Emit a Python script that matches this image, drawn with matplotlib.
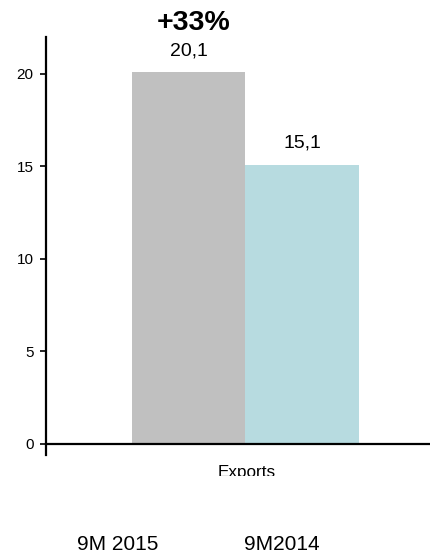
import matplotlib.pyplot as plt
from matplotlib.patches import Rectangle

plt.rcParams["font.family"] = ["Liberation Sans", "DejaVu Sans"]

# exports, first nine months (bn)
CATEGORY = "Exports"
SERIES   = ["9M 2015", "9M2014"]
VALUES   = [20.1, 15.1]
LABELS   = ["20,1", "15,1"]
GROWTH   = "+33%"
COLORS   = ["#c0c0c0", "#b7dbe0"]

fig = plt.figure(figsize=(4.3, 5.55), dpi=100)
ax = fig.add_axes([46 / 430, 1 - 455 / 555, 384 / 430, 418 / 555])

xs = [0, 1]
bars = ax.bar(xs, VALUES, width=1.0, color=COLORS, zorder=2)
for b, lab in zip(bars, LABELS):
    ax.annotate(lab, (b.get_x() + b.get_width() / 2, b.get_height()),
                xytext=(0, 12), textcoords="offset points",
                ha="center", va="baseline", fontsize=14)

ax.set_xlim(-1.255, 2.128)
ax.set_ylim(-0.6, 22)
ax.set_yticks([0, 5, 10, 15, 20])
ax.tick_params(axis="y", length=4, width=1.2, labelsize=11, pad=5)

ax.spines["top"].set_visible(False)
ax.spines["right"].set_visible(False)
ax.spines["bottom"].set_position(("data", 0))
ax.spines["left"].set_linewidth(1.6)
ax.spines["bottom"].set_linewidth(1.6)
ax.set_xticks([])

# category name sits just under the axis, cut off at its baseline
cat = fig.text(247 / 430, 1 - 477.5 / 555, CATEGORY, ha="center",
               va="baseline", fontsize=12.3)
cat.set_clip_on(True)
cat.set_clip_path(Rectangle((0, 1 - 475.7 / 555), 1, 475.7 / 555,
                            transform=fig.transFigure))

fig.text(194 / 430, 1 - 30 / 555, GROWTH, ha="center", va="baseline",
         fontsize=20.5, fontweight="bold")

# series names along the bottom
for name, xc in zip(SERIES, [118, 282]):
    fig.text(xc / 430, 1 - 550 / 555, name, ha="center", va="baseline",
             fontsize=15)

fig.savefig("out.png", dpi=100)
